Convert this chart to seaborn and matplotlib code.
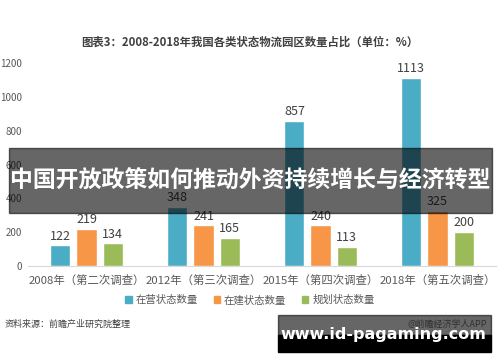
import numpy as np
import pandas as pd
import matplotlib
matplotlib.use('Agg')
import matplotlib.pyplot as plt
from matplotlib.patches import Rectangle
import seaborn as sns

sns.set_style('white')
plt.rcParams['font.family'] = ['Noto Sans CJK SC', 'DejaVu Sans']

# DATA
surveys = ['2008年（第二次调查）', '2012年（第三次调查）', '2015年（第四次调查）', '2018年（第五次调查）']
operating = [122, 348, 857, 1113]
building = [219, 241, 240, 325]
planned = [134, 165, 113, 200]
series_names = ['在营状态数量', '在建状态数量', '规划状态数量']
colors = ['#4BACC6', '#F79646', '#9BBB59']

df = pd.DataFrame({
    'survey': surveys * 3,
    'value': operating + building + planned,
    'status': [s for s in series_names for _ in surveys],
})

fig = plt.figure(figsize=(5, 3.62), dpi=100)
ax = fig.add_axes([0.056, 0.265, 0.936, 0.561])

sns.barplot(data=df, x='survey', y='value', hue='status', palette=colors,
            width=0.67, gap=0.23, saturation=1, ax=ax, legend=False)

for cont in ax.containers:
    ax.bar_label(cont, fontsize=9, color='#404040', padding=2)

# AXES
ax.set_xlim(-0.5, 3.5)
ax.set_ylim(0, 1200)
ax.set_yticks([0, 200, 400, 600, 800, 1000, 1200])
ax.set_xlabel('')
ax.set_ylabel('')
ax.tick_params(axis='y', labelsize=7, colors='#595959', length=0, pad=4)
ax.tick_params(axis='x', labelsize=8.2, colors='#595959', length=0, pad=6)
for s in ['top', 'right', 'left']:
    ax.spines[s].set_visible(False)
ax.spines['bottom'].set_color('#d9d9d9')

# LEGEND
handles = [Rectangle((0, 0), 1, 1, color=c) for c in colors]
fig.legend(handles, series_names, loc='center', bbox_to_anchor=(0.5, 0.171),
           ncol=3, frameon=False, fontsize=7.5, handlelength=0.6, handleheight=0.6,
           handletextpad=0.4, columnspacing=1.5, labelcolor='#595959')

# TITLE & SOURCE
fig.text(0.5, 0.884, '图表3：2008-2018年我国各类状态物流园区数量占比（单位：%）',
         ha='center', va='center', fontsize=8.2, fontweight='bold', color='#404040')
fig.text(0.01, 0.105, '资料来源：前瞻产业研究院整理', ha='left', va='center',
         fontsize=6.5, style='italic', color='#404040')

# OVERLAY BANNERS
fig.patches.append(Rectangle((0.018, 0.412), 0.966, 0.179, transform=fig.transFigure,
                             color='black', alpha=0.6, zorder=10))
fig.text(0.5, 0.50, '中国开放政策如何推动外资持续增长与经济转型', ha='center', va='center',
         fontsize=16.5, fontweight='bold', color='white', zorder=11)

fig.patches.append(Rectangle((0.556, 0.075), 0.426, 0.055, transform=fig.transFigure,
                             color='black', alpha=0.6, zorder=10))
fig.patches.append(Rectangle((0.556, 0.028), 0.426, 0.047, transform=fig.transFigure,
                             color='black', zorder=10))
fig.text(0.975, 0.105, '@前瞻经济学人APP', ha='right', va='center',
         fontsize=6.5, color='#303030', zorder=11)
fig.text(0.767, 0.075, 'www.id-pagaming.com', ha='center', va='center',
         fontsize=11.5, fontweight='bold', color='white', family='DejaVu Sans', zorder=11)

fig.savefig('out.png', dpi=100)
